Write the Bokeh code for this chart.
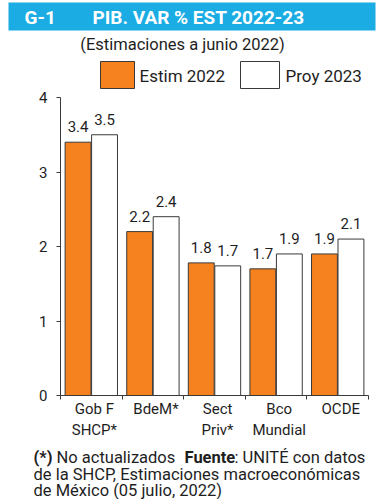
from bokeh.plotting import figure
from bokeh.layouts import column
from bokeh.models import Range1d, LinearAxis, FixedTicker, ColumnDataSource
from bokeh.transform import dodge
from bokeh.embed import file_html
from bokeh.resources import INLINE
from bokeh.core.properties import value

# ---- data ----
categories = ["Gob F\nSHCP*", "BdeM*", "Sect\nPriv*", "Bco\nMundial", "OCDE"]
estim_2022 = [3.4, 2.2, 1.78, 1.7, 1.9]
proy_2023 = [3.5, 2.4, 1.74, 1.9, 2.1]
series_names = ["Estim 2022", "Proy 2023"]
y_ticks = [0, 1, 2, 3, 4]

title_code = "G-1"
title_text = "PIB. VAR % EST 2022-23"
subtitle = "(Estimaciones a junio 2022)"
footer_parts = [("(*)", "bold"), ("No actualizados", "normal"),
                ("Fuente", "bold"), (": UNITÉ con datos", "normal")]
footer_lines = ["de la SHCP, Estimaciones macroeconómicas", "de México (05 julio, 2022)"]

FONT = "Roboto"
ORANGE = "#F5821F"
BLUE = "#1AACE3"
DARK = "#1e1e1e"
EDGE = "#3a3a3a"
SERIES_FILL = [ORANGE, "white"]

W = 385
TOP_H, MAIN_H, BOT_H = 89, 353, 57
FL, FR, FT, FB = 60, 368, 8, 307  # main frame edges inside main figure


def blank(h):
    f = figure(width=W, height=h, x_range=Range1d(0, W), y_range=Range1d(h, 0),
               output_backend="svg", toolbar_location=None,
               x_axis_location=None, y_axis_location=None,
               min_border=0, min_border_left=0, min_border_right=0,
               min_border_top=0, min_border_bottom=0, frame_align=False)
    f.grid.visible = False
    f.outline_line_color = None
    f.background_fill_color = "white"
    f.border_fill_color = "white"
    return f


# ---------------- top: title, subtitle, legend ----------------
top = blank(TOP_H)
top.quad(left=[8], right=[375], top=[2], bottom=[30], fill_color=BLUE, line_color=None)
top.text(x=[24], y=[17], text=[title_code], text_font=value(FONT), text_font_style="bold",
         text_font_size="19px", text_color="white", text_baseline="middle")
top.text(x=[92], y=[17], text=[title_text], text_font=value(FONT), text_font_style="bold",
         text_font_size="19px", text_color="white", text_baseline="middle")
top.text(x=[182], y=[44], text=[subtitle], text_font=value(FONT), text_font_size="16.5px",
         text_color=DARK, text_baseline="middle", text_align="center")
# legend swatches and labels
top.quad(left=[100, 240], right=[134, 279], top=[61, 61], bottom=[88, 88],
         fill_color=SERIES_FILL, line_color=EDGE, line_width=1)
top.text(x=[139, 285], y=[75, 75], text=series_names, text_font=value(FONT),
         text_font_size="17px", text_color=DARK, text_baseline="middle")

# ---------------- main chart ----------------
n = len(categories)
centers = [i + 0.5 for i in range(n)]

p = figure(width=W, height=MAIN_H, x_range=Range1d(0, n), y_range=Range1d(0, 4),
           output_backend="svg", toolbar_location=None, frame_align=False,
           min_border_left=FL, min_border_right=W - FR,
           min_border_top=FT, min_border_bottom=MAIN_H - FB)
p.grid.visible = False
p.outline_line_color = None
p.background_fill_color = "white"
p.border_fill_color = "white"

ya = p.yaxis[0]
ya.ticker = FixedTicker(ticks=y_ticks)
ya.minor_tick_line_color = None
ya.major_tick_in = 0
ya.major_tick_out = 4
ya.major_label_standoff = 9
ya.major_label_text_font = FONT
ya.major_label_text_font_size = "15px"
ya.major_label_text_color = DARK
ya.axis_line_color = EDGE
ya.major_tick_line_color = EDGE

xa = p.xaxis[0]
xa.ticker = FixedTicker(ticks=list(range(n + 1)))
xa.major_label_overrides = {i: "" for i in range(n + 1)}
xa.major_label_standoff = 0
xa.major_tick_in = 0
xa.major_tick_out = 4
xa.minor_tick_line_color = None
xa.axis_line_color = EDGE
xa.major_tick_line_color = EDGE

label_ticks = [c + 0.05 for c in centers]
cat_axis = LinearAxis(ticker=FixedTicker(ticks=label_ticks),
                      major_label_overrides={c: lab for c, lab in zip(label_ticks, categories)},
                      axis_line_color=None, major_tick_line_color=None,
                      minor_tick_line_color=None,
                      major_tick_in=0, major_tick_out=0, major_label_standoff=0,
                      major_label_text_font=FONT, major_label_text_font_size="15px",
                      major_label_text_color=DARK)
p.add_layout(cat_axis, "below")

src = ColumnDataSource(dict(
    x=centers, estim=estim_2022, proy=proy_2023,
    estim_lbl=[f"{v:.1f}" for v in estim_2022],
    proy_lbl=[f"{v:.1f}" for v in proy_2023],
))

OFF, BW = 0.215, 0.42
p.vbar(x=dodge("x", -OFF), top="estim", width=BW, source=src,
       fill_color=SERIES_FILL[0], line_color=EDGE, line_width=1)
p.vbar(x=dodge("x", OFF), top="proy", width=BW, source=src,
       fill_color=SERIES_FILL[1], line_color=EDGE, line_width=1)
for col, ycol, off in (("estim_lbl", "estim", -OFF), ("proy_lbl", "proy", OFF)):
    p.text(x=dodge("x", off), y=ycol, text=col, source=src,
           text_align="center", text_baseline="bottom", y_offset=-10,
           text_font=value(FONT), text_font_size="15px", text_color=DARK)

# ---------------- footer ----------------
bot = blank(BOT_H)
part_x = [33, 56, 184, 234]
for (t, st), x in zip(footer_parts, part_x):
    bot.text(x=[x], y=[15], text=[t], text_font=value(FONT), text_font_style=st,
             text_font_size="16.5px", text_color=DARK, text_baseline="alphabetic")
for i, t in enumerate(footer_lines):
    bot.text(x=[33], y=[32 + 16 * i], text=[t], text_font=value(FONT),
             text_font_size="16.5px", text_color=DARK, text_baseline="alphabetic")

layout = column(top, p, bot, spacing=0)
open("out.html", "w").write(file_html(layout, INLINE))
